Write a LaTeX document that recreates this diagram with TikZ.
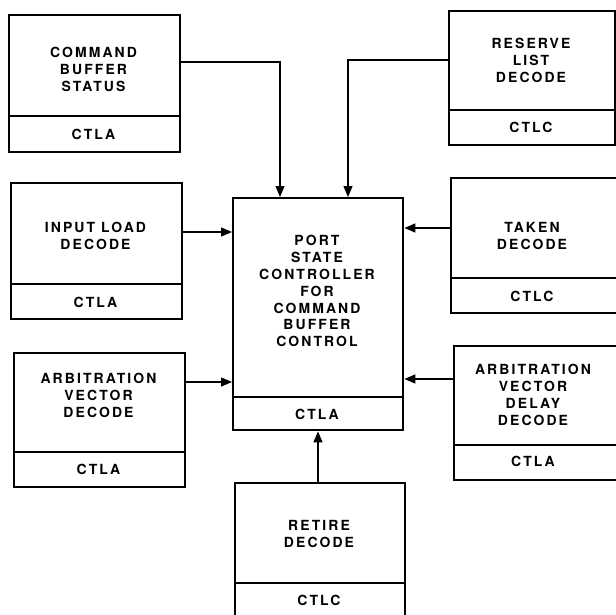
\documentclass[tikz,border=0pt]{standalone}
\usepackage{fontspec}
\newfontfamily\lblfont{TeX Gyre Heros}[LetterSpace=15]
\usetikzlibrary{arrows.meta}
\tikzset{
  box/.style={draw, line width=2.4bp, inner sep=0pt, anchor=north west},
  divline/.style={line width=1.6bp},
  lbl/.style={align=center, inner sep=0pt, font=\lblfont\bfseries\fontsize{14}{17}\selectfont},
  arr/.style={line width=1.3bp, -{Triangle[length=11bp,width=9bp]}},
}
\begin{document}
\begin{tikzpicture}[x=1bp,y=-1bp]
\useasboundingbox (0,0) rectangle (616,615);
% boxes
\node[box, minimum width=171bp, minimum height=137bp] (b1) at (8,14) {};
\node[box, minimum width=166bp, minimum height=134bp] (b2) at (448,10) {};
\node[box, minimum width=171bp, minimum height=136bp] (b3) at (10,182) {};
\node[box, minimum width=172bp, minimum height=135bp] (b4) at (450,177) {};
\node[box, minimum width=170bp, minimum height=232bp] (b5) at (232,197) {};
\node[box, minimum width=171bp, minimum height=134bp] (b6) at (13,352) {};
\node[box, minimum width=169bp, minimum height=134bp] (b7) at (453,345) {};
\node[box, minimum width=170bp, minimum height=140bp] (b8) at (234,482) {};
% divider levels
\coordinate (d1) at (0,116);
\coordinate (d2) at (0,110);
\coordinate (d3) at (0,284);
\coordinate (d4) at (0,278);
\coordinate (d5) at (0,397);
\coordinate (d6) at (0,452);
\coordinate (d7) at (0,445);
\coordinate (d8) at (0,583);
\foreach \b/\d in {b1/d1,b2/d2,b3/d3,b4/d4,b5/d5,b6/d6,b7/d7,b8/d8}
  \draw[divline] (\b.west |- \d) -- (\b.east |- \d);
% texts
\node[lbl] (t1) at (93.5,69) {COMMAND\\BUFFER\\STATUS};
\node[lbl] (c1) at (93.5,134) {CTLA};
\node[lbl] (t2) at (531,60) {RESERVE\\LIST\\DECODE};
\node[lbl] (c2) at (531,127) {CTLC};
\node[lbl] (t3) at (95.5,236) {INPUT LOAD\\DECODE};
\node[lbl] (c3) at (95.5,302) {CTLA};
\node[lbl] (t4) at (532,236) {TAKEN\\DECODE};
\node[lbl] (c4) at (532,296) {CTLC};
\node[lbl] (t5) at (317,291) {PORT\\STATE\\CONTROLLER\\FOR\\COMMAND\\BUFFER\\CONTROL};
\node[lbl] (c5) at (317,414) {CTLA};
\node[lbl] (t6) at (98.5,395) {ARBITRATION\\VECTOR\\DECODE};
\node[lbl] (c6) at (98.5,469) {CTLA};
\node[lbl] (t7) at (533,395) {ARBITRATION\\VECTOR\\DELAY\\DECODE};
\node[lbl] (c7) at (533,461) {CTLA};
\node[lbl] (t8) at (319,534) {RETIRE\\DECODE};
\node[lbl] (c8) at (319,600) {CTLC};
% connector levels
\coordinate (y1) at (0,62);
\coordinate (k1) at (280,0);
\coordinate (y2) at (0,60);
\coordinate (k2) at (348,0);
\coordinate (y3) at (0,232);
\coordinate (y4) at (0,228);
\coordinate (y6) at (0,382);
\coordinate (y7) at (0,379);
\coordinate (k8) at (318,0);
\draw[arr] (b1.east |- y1) -| (b5.north -| k1);
\draw[arr] (b2.west |- y2) -| (b5.north -| k2);
\draw[arr] (b3.east |- y3) -- (b5.west |- y3);
\draw[arr] (b4.west |- y4) -- (b5.east |- y4);
\draw[arr] (b6.east |- y6) -- (b5.west |- y6);
\draw[arr] (b7.west |- y7) -- (b5.east |- y7);
\draw[arr] (b8.north -| k8) -- (b5.south -| k8);
\end{tikzpicture}
\end{document}
